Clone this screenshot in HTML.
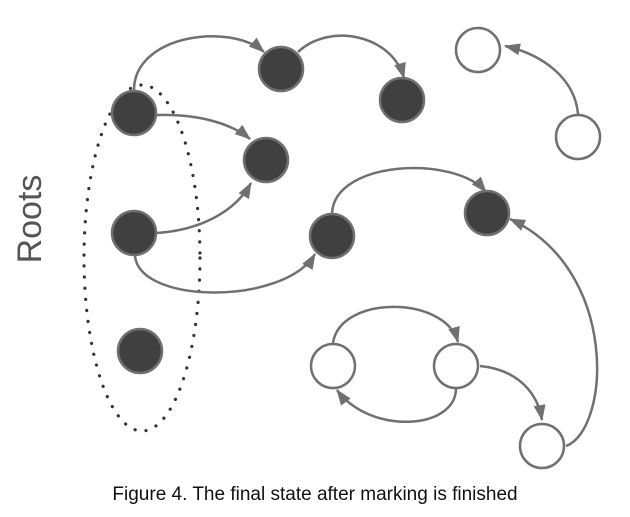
<!DOCTYPE html>
<html><head><meta charset="utf-8"><style>
html,body{margin:0;padding:0;background:#fff;width:630px;height:517px;overflow:hidden}
</style></head><body>
<svg width="630" height="517" xmlns="http://www.w3.org/2000/svg">
<defs>
<marker id="a" viewBox="0 0 16 12" refX="15" refY="6" markerWidth="16" markerHeight="12" orient="auto" markerUnits="userSpaceOnUse">
<path d="M0,0 L16,6 L0,12 z" fill="#707070"/>
</marker>
</defs>
<ellipse cx="142" cy="258" rx="58" ry="173" fill="none" stroke="#333" stroke-width="3.2" stroke-dasharray="0.1 11" stroke-linecap="round"/>
<text transform="translate(41,219) rotate(-90)" text-anchor="middle" font-family="Liberation Sans, sans-serif" font-size="34" fill="#555">Roots</text>
<g fill="none" stroke="#707070" stroke-width="2.5" marker-end="url(#a)">
<path d="M134,90 C134,35 230,22 264,52"/>
<path d="M298,52 C330,22 392,35 404,78"/>
<path d="M157,115 C200,114 232,124 250,139"/>
<path d="M157,233 C200,230 235,212 251,183"/>
<path d="M135,256 C140,305 285,305 315,254"/>
<path d="M332,213 C335,160 455,155 486,192"/>
<path d="M578,114 C575,80 545,55 505,46"/>
<path d="M333,343 C340,295 445,295 458,342"/>
<path d="M456,389 C455,430 370,435 337,390"/>
<path d="M480,366 C520,370 538,395 542,420"/>
<path d="M566,446 C610,430 620,270 510,219"/>
</g>
<g fill="#404040" stroke="#707070" stroke-width="2.5">
<circle cx="134" cy="113" r="22"/>
<circle cx="281" cy="69" r="22"/>
<circle cx="402" cy="100" r="22"/>
<circle cx="266" cy="160" r="22"/>
<circle cx="134" cy="233" r="22"/>
<circle cx="332" cy="236" r="22"/>
<circle cx="487" cy="213" r="22"/>
<circle cx="140" cy="351" r="22"/>
</g>
<g fill="#fff" stroke="#707070" stroke-width="2.5">
<circle cx="478" cy="50" r="22"/>
<circle cx="578" cy="137" r="22"/>
<circle cx="333" cy="366" r="22"/>
<circle cx="456" cy="366" r="22"/>
<circle cx="542" cy="446" r="22"/>
</g>
<text x="315" y="500" text-anchor="middle" font-family="Liberation Sans, sans-serif" font-size="19" fill="#111">Figure 4. The final state after marking is finished</text>
</svg>
</body></html>
